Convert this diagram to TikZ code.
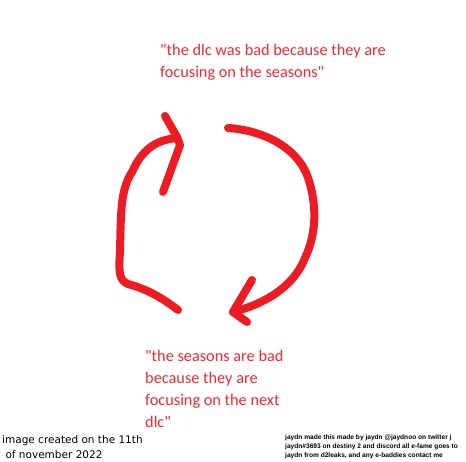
\documentclass[tikz,border=0pt]{standalone}
\usepackage{fontspec}
\setmainfont{Carlito}
\newfontfamily\notefont{DejaVu Sans}
\newfontfamily\tinyfont{Liberation Sans}
\definecolor{penred}{RGB}{237,28,36}
\definecolor{quotered}{RGB}{245,40,50}
\tikzset{
  quote/.style={anchor=base west,align=left,text=quotered,inner sep=0pt,
    font=\fontsize{16.3}{22}\selectfont},
  pen/.style={penred,line width=8pt,line cap=round,line join=round},
  note/.style={anchor=base west,align=left,inner sep=0pt}
}
\begin{document}
\begin{tikzpicture}[x=1pt,y=-1pt]
    \useasboundingbox (0,0) rectangle (466,462);
    % the two claims (base = last line)
    \node[quote] (dlc) at (160,78) {\textquotedbl the dlc was bad because they are\\focusing on the seasons\textquotedbl};
    \node[quote] (seasons) at (145,427) {\textquotedbl the seasons are bad\\because they are\\focusing on the next\\dlc\textquotedbl};
    % left arrow, going up
    \draw[pen] (178,310) .. controls (165,300) and (150,290) .. (128,284)
        .. controls (118,280) and (119,270) .. (120,250)
        .. controls (121,215) and (120,190) .. (132,172)
        .. controls (142,150) and (155,140) .. (177,138);
    \draw[pen] (165,116) -- (177,137) -- (180,145) -- (163,192);
    % right arrow, going down
    \draw[pen] (228,128) .. controls (260,130) and (295,145) .. (307,175)
        .. controls (318,205) and (316,235) .. (305,258)
        .. controls (292,290) and (260,305) .. (233,312);
    \draw[pen] (252,280) -- (233,312) -- (247,322);
    % footer notes
    \node[note,font=\notefont\fontsize{10.5}{15}\selectfont] (made) at (2,458)
        {image created on the 11th\\\ of november 2022};
    \node[note,font=\tinyfont\bfseries\fontsize{6.6}{9}\selectfont] (credit) at (285,457)
        {jaydn made this made by jaydn @jaydnoo on twitter j\\jaydn\#3693 on destiny 2 and discord all e-fame goes to\\jaydn from d2leaks, and any e-baddies contact me};
\end{tikzpicture}
\end{document}
